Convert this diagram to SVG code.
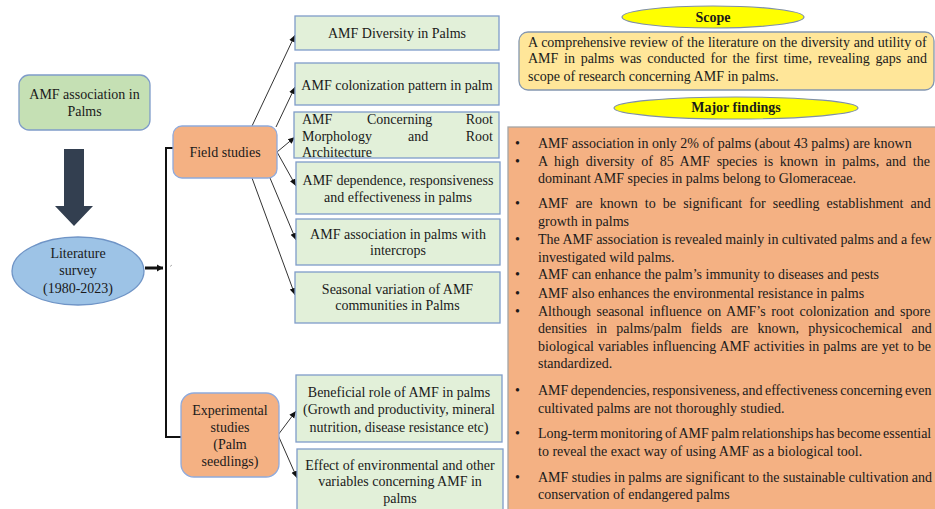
<svg xmlns="http://www.w3.org/2000/svg" width="935" height="509" viewBox="0 0 935 509">
<defs>
<style>
text{font-family:"Liberation Serif","Times New Roman",serif;font-size:14px;fill:#1a1a1a}
.c{text-anchor:middle}
.b{font-weight:bold}
.g{fill:#e2f0d9;stroke:#7f9cc9;stroke-width:1.3}
.o{fill:#f4b183;stroke:#8faadc;stroke-width:1.3}
.ln{stroke:#333;stroke-width:1;fill:none}
.y{fill:#ffff00;stroke:#7f8fa8;stroke-width:1.2}
</style>
<marker id="ah" markerWidth="8" markerHeight="8" refX="7" refY="4" orient="auto" markerUnits="userSpaceOnUse">
<path d="M0,1 L7,4 L0,7 Z" fill="#111"/>
</marker>
<marker id="ah2" markerWidth="8" markerHeight="8" refX="6" refY="4" orient="auto" markerUnits="userSpaceOnUse">
<path d="M0,0.5 L6,4 L0,7.5 Z" fill="#111"/>
</marker>
</defs>
<rect width="935" height="509" fill="#ffffff"/>

<g id="connectors">
<path d="M64,149 H84 V206 H93 L74,226 L55,206 H64 Z" fill="#333f50"/>
<line x1="145" y1="268" x2="163" y2="268" stroke="#111" stroke-width="3" marker-end="url(#ah2)"/>
<line x1="170" y1="266.5" x2="172" y2="265" stroke="#999" stroke-width="0.8"/>
<polyline points="173,148 166,148 166,437 181,437" fill="none" stroke="#111" stroke-width="2"/>
<line class="ln" x1="252" y1="126" x2="295" y2="35" marker-end="url(#ah)"/>
<line class="ln" x1="276" y1="127" x2="295" y2="87" marker-end="url(#ah)"/>
<line class="ln" x1="277" y1="152" x2="295" y2="137" marker-end="url(#ah)"/>
<line class="ln" x1="277" y1="152" x2="296" y2="186" marker-end="url(#ah)"/>
<line class="ln" x1="270" y1="178" x2="296" y2="240" marker-end="url(#ah)"/>
<line class="ln" x1="252" y1="178" x2="295" y2="295" marker-end="url(#ah)"/>
<line class="ln" x1="278" y1="435" x2="296" y2="411" marker-end="url(#ah)"/>
<line class="ln" x1="278" y1="435" x2="297" y2="478" marker-end="url(#ah)"/>
</g>

<g id="amf-association">
<rect x="19" y="75" width="131" height="55" rx="10" fill="#c5e0b4" stroke="#7f9cc9" stroke-width="1.3"/>
<text class="c" x="84.5" y="99">AMF association in</text>
<text class="c" x="84.5" y="116">Palms</text>
</g>

<g id="literature-survey">
<ellipse cx="78" cy="271" rx="66" ry="34" fill="#9dc3e6" stroke="#6f94c6" stroke-width="1.3"/>
<text class="c" x="78" y="258">Literature</text>
<text class="c" x="78" y="275">survey</text>
<text class="c" x="78" y="293">(1980-2023)</text>
</g>

<g id="field-studies">
<rect class="o" x="173" y="126" width="104" height="52" rx="9"/>
<text class="c" x="225" y="157">Field studies</text>
</g>

<g id="experimental-studies">
<rect class="o" x="181" y="393" width="98" height="84" rx="13"/>
<text class="c" x="230" y="415">Experimental</text>
<text class="c" x="230" y="432">studies</text>
<text class="c" x="230" y="449">(Palm</text>
<text class="c" x="230" y="466">seedlings)</text>
</g>

<g id="diversity">
<rect class="g" x="295" y="16" width="204" height="34"/>
<text class="c" x="397" y="38">AMF Diversity  in Palms</text>
</g>
<g id="colonization">
<rect class="g" x="295" y="63" width="204" height="42"/>
<text class="c" x="397" y="90">AMF colonization pattern in palm</text>
</g>
<g id="root-morphology">
<rect class="g" x="294" y="112" width="205" height="46"/>
<text x="302" y="124">AMF</text>
<text x="367" y="124">Concerning</text>
<text x="493" y="124" text-anchor="end">Root</text>
<text x="302" y="141">Morphology</text>
<text x="408" y="141">and</text>
<text x="493" y="141" text-anchor="end">Root</text>
<text x="302" y="157">Architecture</text>
</g>
<g id="dependence">
<rect class="g" x="296" y="162" width="204" height="52"/>
<text class="c" x="398" y="185">AMF dependence, responsiveness</text>
<text class="c" x="398" y="202">and effectiveness in palms</text>
</g>
<g id="intercrops">
<rect class="g" x="296" y="219" width="204" height="46"/>
<text class="c" x="398" y="239">AMF association in palms with</text>
<text class="c" x="398" y="255">intercrops</text>
</g>
<g id="seasonal">
<rect class="g" x="295" y="272" width="205" height="51"/>
<text class="c" x="397.5" y="294">Seasonal variation  of AMF</text>
<text class="c" x="397.5" y="310">communities in Palms</text>
</g>
<g id="beneficial">
<rect class="g" x="296" y="375" width="206" height="67"/>
<text class="c" x="399" y="397">Beneficial  role of AMF in  palms</text>
<text class="c" x="399" y="414">(Growth and productivity, mineral</text>
<text class="c" x="399" y="432">nutrition,  disease resistance etc)</text>
</g>
<g id="environmental">
<rect class="g" x="297" y="449" width="206" height="70"/>
<text class="c" x="400" y="470">Effect of environmental  and other</text>
<text class="c" x="400" y="486">variables  concerning AMF in</text>
<text class="c" x="400" y="503">palms</text>
</g>

<g id="scope-label">
<ellipse class="y" cx="713" cy="17" rx="91" ry="11"/>
<text class="c b" x="713" y="22">Scope</text>
</g>
<g id="scope-text">
<rect x="519" y="32" width="415" height="58" rx="9" fill="#ffe699" stroke="#8497b0" stroke-width="1.3"/>
<text x="528" y="47" word-spacing="0.3">A comprehensive review of the literature on the diversity and utility of</text>
<text x="528" y="63" word-spacing="2.2">AMF in palms was conducted for the first time, revealing gaps and</text>
<text x="528" y="81">scope of research concerning AMF in palms.</text>
</g>

<g id="findings-label">
<ellipse class="y" cx="736" cy="108" rx="122" ry="11"/>
<text class="c b" x="736" y="112">Major findings</text>
</g>
<g id="findings">
<rect x="508" y="127" width="440" height="400" fill="#f4b183" stroke="#a5a5a5" stroke-width="1.3"/>
<text x="515" y="148">•</text>
<text x="538" y="148">AMF association in only 2% of palms (about 43  palms) are known</text>
<text x="515" y="166">•</text>
<text x="538" y="166" word-spacing="3.2">A high diversity of 85 AMF species is known in palms, and the</text>
<text x="538" y="183">dominant AMF species in palms belong to Glomeraceae.</text>
<text x="515" y="208">•</text>
<text x="538" y="208" word-spacing="3.6">AMF are known to be significant for seedling establishment and</text>
<text x="538" y="226">growth in palms</text>
<text x="515" y="244">•</text>
<text x="538" y="244" word-spacing="-0.1">The AMF association is revealed mainly in cultivated palms and a few</text>
<text x="538" y="262">investigated  wild palms.</text>
<text x="515" y="279">•</text>
<text x="538" y="279">AMF can enhance the palm’s immunity  to diseases and pests</text>
<text x="515" y="298">•</text>
<text x="538" y="298">AMF also enhances the environmental  resistance in palms</text>
<text x="515" y="316">•</text>
<text x="538" y="316" word-spacing="2.1">Although seasonal influence on AMF’s root colonization and spore</text>
<text x="538" y="333" word-spacing="5.7">densities in palms/palm fields are known, physicochemical and</text>
<text x="538" y="351" word-spacing="0.5">biological variables influencing AMF activities in palms are yet to be</text>
<text x="538" y="368">standardized.</text>
<text x="515" y="395">•</text>
<text x="538" y="395" word-spacing="-1">AMF dependencies, responsiveness, and effectiveness concerning even</text>
<text x="538" y="413">cultivated palms are not thoroughly studied.</text>
<text x="515" y="438">•</text>
<text x="538" y="438" word-spacing="-1">Long-term monitoring of AMF palm relationships has become essential</text>
<text x="538" y="456">to reveal the exact way of using AMF as a biological  tool.</text>
<text x="515" y="482">•</text>
<text x="538" y="482" word-spacing="-0.1">AMF studies in palms are significant to the sustainable cultivation and</text>
<text x="538" y="499">conservation of endangered palms</text>
</g>
</svg>
